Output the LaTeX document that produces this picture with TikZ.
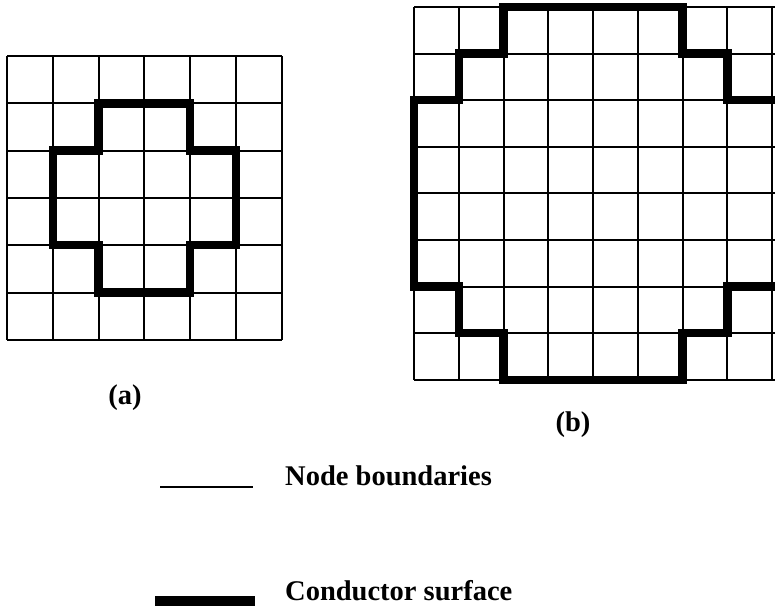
\documentclass[tikz,border=0pt]{standalone}
\usepackage{fontspec}
\setmainfont{Liberation Serif}
\usetikzlibrary{positioning}
\tikzset{cell/.style={line width=2pt},
cond/.style={line width=8.5pt,line join=miter,line cap=rect},
lab/.style={font=\bfseries\fontsize{28.5}{32}\selectfont,inner sep=0pt}}

\begin{document}
\begin{tikzpicture}[x=1pt,y=-1pt]
\useasboundingbox (0,0) rectangle (775,611);
\clip (0,0) rectangle (775,611);
% (a) 6x6 nodes
\begin{scope}[shift={(7,56)},x=45.8pt,y=-47.3pt]
\foreach \i in {0,...,6} {\draw[cell] (\i,0)--(\i,6); \draw[cell] (0,\i)--(6,\i);}
\draw[cond] (2,1)--(4,1)--(4,2)--(5,2)--(5,4)--(4,4)--(4,5)--(2,5)--(2,4)--(1,4)--(1,2)--(2,2)--cycle;
\end{scope}
% (b) finer nodes, cut at the right edge
\begin{scope}[shift={(414,7)},x=44.75pt,y=-46.6pt]
\foreach \i in {0,...,8} {\draw[cell] (\i,0)--(\i,8); \draw[cell] (0,\i)--(8.2,\i);}
\draw[cond] (8.2,2)--(7,2)--(7,1)--(6,1)--(6,0)--(2,0)--(2,1)--(1,1)--(1,2)--(0,2)--(0,6)--(1,6)--(1,7)--(2,7)--(2,8)--(6,8)--(6,7)--(7,7)--(7,6)--(8.2,6);
\end{scope}
\node[lab] (capa) at (125,398) {(a)};
\node[lab] (capb) at (573,425) {(b)};
% legend
\node[lab,anchor=base west] (thin) at (285,485) {Node boundaries};
\node[lab,anchor=base west] (thick) at (285,600) {Conductor surface};
\coordinate (t1) at (160,487);
\coordinate (t2) at (253,487);
\coordinate (k1) at (155,601);
\coordinate (k2) at (255,601);
\draw[line width=1.6pt] (t1)--(t2);
\draw[line width=10pt] (k1)--(k2);
\end{tikzpicture}
\end{document}
